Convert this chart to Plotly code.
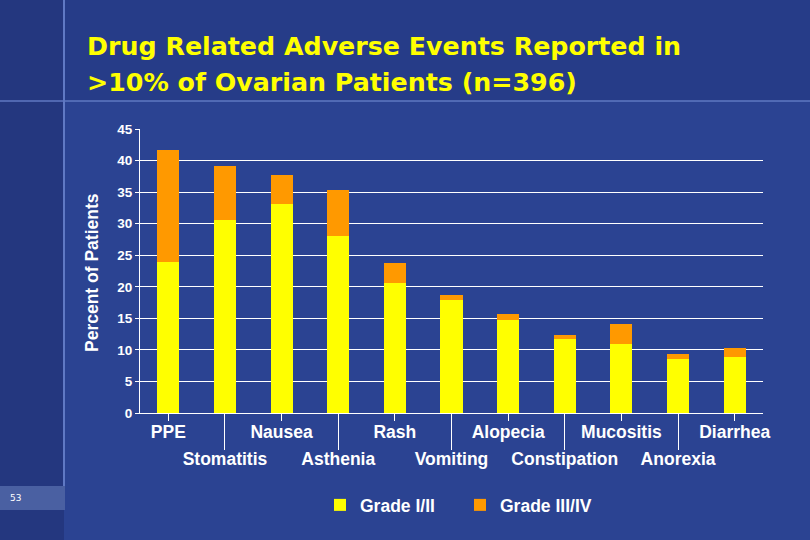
import plotly.graph_objects as go

categories = ["PPE", "Stomatitis", "Nausea", "Asthenia", "Rash", "Vomiting",
              "Alopecia", "Constipation", "Mucositis", "Anorexia", "Diarrhea"]
grade_1_2 = [24.0, 30.6, 33.1, 28.0, 20.6, 17.9, 14.8, 11.8, 10.9, 8.5, 8.8]
grade_3_4 = [17.7, 8.5, 4.6, 7.3, 3.1, 0.8, 0.9, 0.6, 3.2, 0.85, 1.5]
y_ticks = [0, 5, 10, 15, 20, 25, 30, 35, 40, 45]

title_lines = ["Drug Related Adverse Events Reported in",
               ">10% of Ovarian Patients (n=396)"]

BG = "#2B4392"
FONT = "Liberation Sans, Arial, sans-serif"
TFONT = "DejaVu Sans, Liberation Sans, sans-serif"
W, H = 810, 540
L, R, T, B = 140, 47, 129, 127
PW, PH = W - L - R, H - T - B

def px_x(p):
    return (p - L) / PW

def px_y(p):
    return (H - B - p) / PH

fig = go.Figure()
fig.add_trace(go.Bar(x=categories, y=grade_1_2, name="Grade I/II",
                     marker=dict(color="#FFFF00", line=dict(width=0))))
fig.add_trace(go.Bar(x=categories, y=grade_3_4, name="Grade III/IV",
                     marker=dict(color="#FF9900", line=dict(width=0))))
odd = categories[1::2]
even = categories[0::2]
fig.add_trace(go.Scatter(x=odd, y=[0] * len(odd), xaxis="x2", mode="markers",
                         marker=dict(opacity=0), showlegend=False, hoverinfo="skip"))

tickfont = dict(family=FONT, size=17.5, color="white", weight="bold")
fig.update_layout(
    width=W, height=H,
    margin=dict(l=L, r=R, t=T, b=B),
    paper_bgcolor=BG, plot_bgcolor=BG,
    barmode="stack", bargap=0.61,
    showlegend=True,
    legend=dict(orientation="h", x=px_x(320), y=px_y(505), xanchor="left", yanchor="middle",
                font=dict(family=FONT, size=17.5, color="white", weight="bold"),
                bgcolor="rgba(0,0,0,0)", itemwidth=30, traceorder="normal",
                entrywidth=95, entrywidthmode="pixels"),
    xaxis=dict(type="category", categoryorder="array", categoryarray=categories,
               range=[-0.5, len(categories) - 0.5],
               tickmode="array", tickvals=even, ticktext=even,
               ticks="outside", ticklen=7, tickcolor="white", tickwidth=1,
               ticklabelstandoff=-4,
               showline=True, linecolor="white", linewidth=1,
               showgrid=False, zeroline=False, tickfont=tickfont),
    xaxis2=dict(type="category", categoryorder="array", categoryarray=categories,
                overlaying="x", anchor="y", side="bottom", matches="x",
                range=[-0.5, len(categories) - 0.5],
                tickmode="array", tickvals=odd, ticktext=odd,
                ticks="outside", ticklen=36, tickcolor="white", tickwidth=1,
                ticklabelstandoff=-6,
                showline=False, showgrid=False, zeroline=False, tickfont=tickfont),
    yaxis=dict(range=[0, 45], tickmode="array", tickvals=y_ticks,
               ticks="outside", ticklen=4, tickcolor="white",
               showline=True, linecolor="white", linewidth=1,
               showgrid=True, gridcolor="white", gridwidth=1, zeroline=False,
               tickfont=dict(family=FONT, size=13.5, color="white", weight="bold")),
)

# slide decoration
fig.add_shape(type="rect", xref="paper", yref="paper", x0=px_x(0), x1=px_x(64),
              y0=px_y(540), y1=px_y(0), fillcolor="#24377F", line=dict(width=0), layer="below")
fig.add_shape(type="rect", xref="paper", yref="paper", x0=px_x(64), x1=px_x(810),
              y0=px_y(101), y1=px_y(0), fillcolor="#263C88", line=dict(width=0), layer="below")
fig.add_shape(type="line", xref="paper", yref="paper", x0=px_x(64), x1=px_x(64),
              y0=px_y(486), y1=px_y(0), line=dict(color="#6079C4", width=2), layer="below")
fig.add_shape(type="line", xref="paper", yref="paper", x0=px_x(0), x1=px_x(810),
              y0=px_y(101), y1=px_y(101), line=dict(color="#5F78C2", width=1.5), layer="below")
fig.add_shape(type="rect", xref="paper", yref="paper", x0=px_x(0), x1=px_x(65),
              y0=px_y(510), y1=px_y(486), fillcolor="#4A60A2", line=dict(width=0), layer="below")
fig.add_annotation(text="53", xref="paper", yref="paper", x=px_x(8), y=px_y(498),
                   xanchor="left", yanchor="middle", showarrow=False,
                   font=dict(family="DejaVu Sans", size=9, color="white"))

# title
for line, ypix in zip(title_lines, [46, 82]):
    fig.add_annotation(text=line, xref="paper", yref="paper", x=px_x(85), y=px_y(ypix),
                       xanchor="left", yanchor="middle", showarrow=False,
                       font=dict(family=TFONT, size=25.3, color="#FFFF00", weight="bold"))

# y axis title
fig.add_annotation(text="Percent of Patients", xref="paper", yref="paper",
                   x=px_x(92), y=px_y(273), textangle=-90, showarrow=False,
                   xanchor="center", yanchor="middle",
                   font=dict(family=FONT, size=17.5, color="white", weight="bold"))

fig.write_html("out.html", config={"displayModeBar": False},
               post_script="document.body.style.margin='0';document.body.style.padding='0';")
